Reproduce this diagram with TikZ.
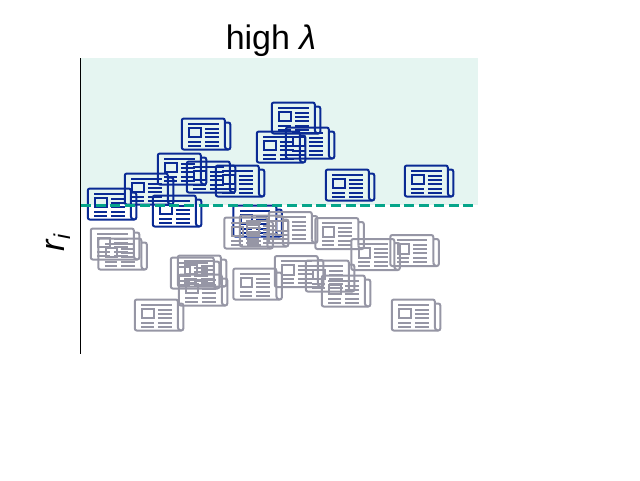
\documentclass[tikz,border=0pt]{standalone}
\usepackage{fontspec}
\setmainfont{Liberation Sans}
\definecolor{newsblue}{HTML}{0A2A94}
\definecolor{newsgrey}{HTML}{9696A5}
\definecolor{band}{HTML}{E5F5F1}
\definecolor{dashteal}{HTML}{06A58A}
\tikzset{
  iconline/.style={line width=2pt},
  textline/.style={line width=2pt,line cap=butt},
}
\newcommand{\newsicon}[3]{%
  \begin{scope}[shift={(#1,#2)},xshift=-0.7pt,draw=#3]
    \draw[iconline,rounded corners=2pt] (43,27.5) -- (43,0) -- (0,0) -- (0,31) -- (48.5,31) -- (48.5,4) -- (43,4);
    \draw[iconline] (43,27.5) .. controls (43,29.5) and (44,30.5) .. (46,31);
    \draw[iconline] (7.5,9) rectangle (19,18.5);
    \draw[textline] (6.5,5) -- (37,5);
    \draw[textline] (23,10) -- (37,10);
    \draw[textline] (23,14) -- (37,14);
    \draw[textline] (23,18) -- (37,18);
    \draw[textline] (6.5,23) -- (19,23);
    \draw[textline] (23,23) -- (37,23);
    \draw[textline] (6.5,27) -- (19,27);
    \draw[textline] (23,27) -- (37,27);
  \end{scope}%
}
\begin{document}
\begin{tikzpicture}[x=1pt,y=-1pt]
\useasboundingbox (0,0) rectangle (640,480);
\fill[band] (81,58) rectangle (478,205);
\foreach \px/\py in {182.5/118.5,158.5/153.5,187.5/161.5,216.5/165.5,125.5/173.5,88.5/188.5,153.5/195.5,234/205.5,272.5/102.5,257.5/131.5,286.5/127.5,326.5/169.5,405.5/165.5}
  {\newsicon{\px}{\py}{newsblue}}
\draw[dashteal,line width=3pt,dash pattern=on 10pt off 4.7pt] (81,205.5) -- (476,205.5);
\foreach \px/\py in {91.5/228.5,99/238.5,171.5/257.5,178.5/255.5,179.5/274.5,135.5/299.5,234/268.5,225/217.5,240.5/215.5,269.5/212,316/218,352/239,391/235,275.5/256,306.5/260.5,322.5/275.5,392.5/299.5}
  {\newsicon{\px}{\py}{newsgrey}}
\draw[black,line width=1pt] (80.5,58) -- (80.5,353.5);
\node[anchor=base,inner sep=0pt,font=\fontsize{34}{38}\selectfont] (title) at (271,49) {high {\itshape λ}};
\node[rotate=90,inner sep=0pt,font=\fontsize{34}{38}\selectfont\itshape] (rlabel) at (58,243) {r\raisebox{-6pt}{\fontsize{23}{26}\selectfont i}};
\end{tikzpicture}
\end{document}
